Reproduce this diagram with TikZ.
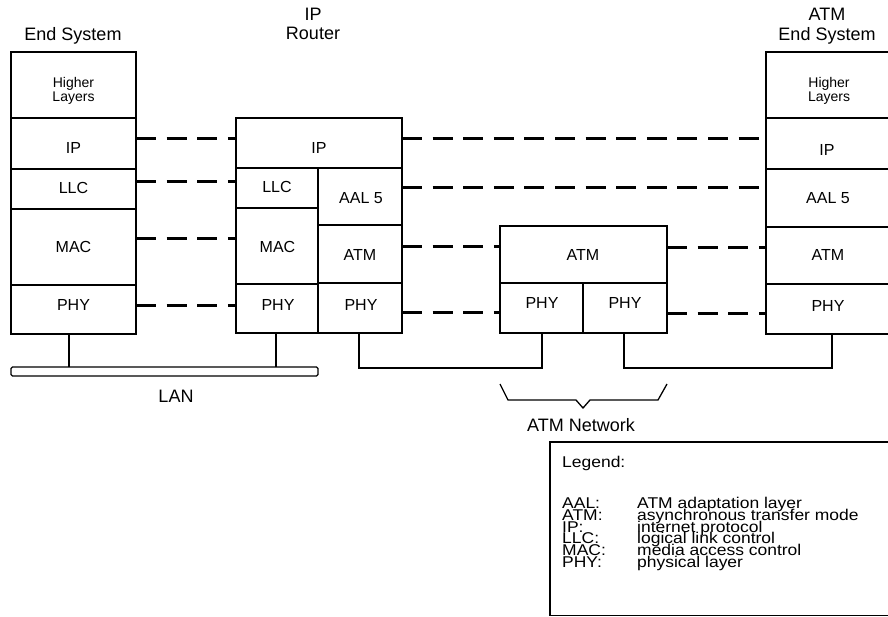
\documentclass[tikz,border=0pt]{standalone}
\usepackage{fontspec}
\setmainfont{Liberation Sans}
\newfontfamily\legfnt[FakeStretch=1.12]{Liberation Sans}
\usetikzlibrary{fit}
\begin{document}
\begin{tikzpicture}[x=1pt,y=-1pt,
  cell/.style={draw, line width=1.3pt, inner sep=0pt, outer sep=0pt},
  txt/.style={anchor=base, inner sep=0pt, font=\fontsize{16}{16}\selectfont},
  hdr/.style={anchor=base, inner sep=0pt, font=\fontsize{18}{18}\selectfont},
  hl/.style={anchor=base, inner sep=0pt, font=\fontsize{14}{14}\selectfont},
  leg/.style={anchor=base west, inner sep=0pt, font=\legfnt\fontsize{15.6}{15.6}\selectfont},
  dashlink/.style={line width=3pt, dash pattern=on 20pt off 10.6pt},
  wire/.style={line width=1.3pt},
]
\useasboundingbox (0,0) rectangle (888,616);
\clip (0,0) rectangle (888,616);

% ---------- headers ----------
\node[hdr] (hES) at (73,40.5) {End System};
\node[hdr] (hIP) at (313,20) {IP};
\node[hdr] (hRt) at (313,39.5) {Router};
\node[hdr] (hATM) at (827,20) {ATM};
\node[hdr] (hAES) at (827,40) {End System};

% ---------- left end system ----------
\node[cell, fit={(11,52)(136,118)}] (esHL) {};
\node[cell, fit={(11,118)(136,169)}] (esIP) {};
\node[cell, fit={(11,169)(136,209)}] (esLLC) {};
\node[cell, fit={(11,209)(136,285)}] (esMAC) {};
\node[cell, fit={(11,285)(136,334)}] (esPHY) {};
\node[hl] (esHLa) at (73.5,87) {Higher};
\node[hl] (esHLb) at (73.5,101.5) {Layers};
\node[txt] (esIPt) at (73.5,153) {IP};
\node[txt] (esLLCt) at (73.5,193) {LLC};
\node[txt] (esMACt) at (73.5,252) {MAC};
\node[txt] (esPHYt) at (73.5,310) {PHY};

% ---------- IP router ----------
\node[cell, fit={(236,118)(402,168)}] (rtIP) {};
\node[cell, fit={(236,168)(318,208)}] (rtLLC) {};
\node[cell, fit={(236,208)(318,284)}] (rtMAC) {};
\node[cell, fit={(236,284)(318,333)}] (rtPHYl) {};
\node[cell, fit={(318,168)(402,225)}] (rtAAL) {};
\node[cell, fit={(318,225)(402,283)}] (rtATM) {};
\node[cell, fit={(318,283)(402,333)}] (rtPHYr) {};
\node[txt] (rtIPt) at (319,153) {IP};
\node[txt] (rtLLCt) at (277,192.5) {LLC};
\node[txt] (rtMACt) at (277.5,252) {MAC};
\node[txt] (rtPHYlt) at (278,310) {PHY};
\node[txt] (rtAALt) at (361,203) {AAL 5};
\node[txt] (rtATMt) at (360,260) {ATM};
\node[txt] (rtPHYrt) at (361,310) {PHY};

% ---------- ATM switch ----------
\node[cell, fit={(500,226)(667,283)}] (swATM) {};
\node[cell, fit={(500,283)(583,333)}] (swPHYl) {};
\node[cell, fit={(583,283)(667,333)}] (swPHYr) {};
\node[txt] (swATMt) at (583,260) {ATM};
\node[txt] (swPHYlt) at (542,308) {PHY};
\node[txt] (swPHYrt) at (625,308) {PHY};

% ---------- ATM end system ----------
\node[cell, fit={(766,52)(891,118)}] (reHL) {};
\node[cell, fit={(766,118)(891,169)}] (reIP) {};
\node[cell, fit={(766,169)(891,227)}] (reAAL) {};
\node[cell, fit={(766,227)(891,284)}] (reATM) {};
\node[cell, fit={(766,284)(891,334)}] (rePHY) {};
\node[hl] (reHLa) at (829,87) {Higher};
\node[hl] (reHLb) at (829,101) {Layers};
\node[txt] (reIPt) at (827,155) {IP};
\node[txt] (reAALt) at (828,203.5) {AAL 5};
\node[txt] (reATMt) at (828,260) {ATM};
\node[txt] (rePHYt) at (828,311) {PHY};

% ---------- peer dashed links ----------
\draw[dashlink] (esIP.east |- 0,138) -- (rtIP.west |- 0,138);
\draw[dashlink] (esLLC.east |- 0,181) -- (rtLLC.west |- 0,181);
\draw[dashlink] (esMAC.east |- 0,238) -- (rtMAC.west |- 0,238);
\draw[dashlink] (esPHY.east |- 0,305) -- (rtPHYl.west |- 0,305);
\draw[dashlink] (rtIP.east |- 0,138) -- (reIP.west |- 0,138);
\draw[dashlink] (rtAAL.east |- 0,187) -- (reAAL.west |- 0,187);
\draw[dashlink] (rtATM.east |- 0,246.5) -- (swATM.west |- 0,246.5);
\draw[dashlink] (rtPHYr.east |- 0,312.5) -- (swPHYl.west |- 0,312.5);
\draw[dashlink] (swATM.east |- 0,247) -- (reATM.west |- 0,247);
\draw[dashlink] (swPHYr.east |- 0,313) -- (rePHY.west |- 0,313);

% ---------- LAN ----------
\node[cell, rounded corners=1.5pt, fit={(11,367)(318,376)}] (lan) {};
\node[hdr] (lanT) at (176,402) {LAN};
\draw[wire] (esPHY.south -| 69,0) -- (lan.north -| 69,0);
\draw[wire] (rtPHYl.south -| 276,0) -- (lan.north -| 276,0);

% ---------- ATM network links ----------
\coordinate (k1) at (359,368);
\coordinate (k2) at (832,368);
\draw[wire] (rtPHYr.south -| 359,0) -- (k1) -| (swPHYl.south -| 542,0);
\draw[wire] (swPHYr.south -| 624,0) |- (k2) -- (rePHY.south -| 832,0);

% ---------- brace ----------
\draw[wire] (500,384) -- (508,400) -- (576,400) -- (583,408) -- (590,400) -- (658,400) -- (667,384);
\node[hdr] (netT) at (581,431) {ATM Network};

% ---------- legend ----------
\node[cell, fit={(550,442)(891,615.5)}] (legend) {};
\node[leg] (legT) at (562,467) {Legend:};
\node[leg] (a1) at (562,508.5) {AAL:};
\node[leg] (a2) at (562,520.3) {ATM:};
\node[leg] (a3) at (562,532.1) {IP:};
\node[leg] (a4) at (562,543.9) {LLC:};
\node[leg] (a5) at (562,555.7) {MAC:};
\node[leg] (a6) at (562,567.5) {PHY:};
\node[leg] (b1) at (637,508.5) {ATM adaptation layer};
\node[leg] (b2) at (637,520.3) {asynchronous transfer mode};
\node[leg] (b3) at (637,532.1) {internet protocol};
\node[leg] (b4) at (637,543.9) {logical link control};
\node[leg] (b5) at (637,555.7) {media access control};
\node[leg] (b6) at (637,567.5) {physical layer};
\end{tikzpicture}
\end{document}
